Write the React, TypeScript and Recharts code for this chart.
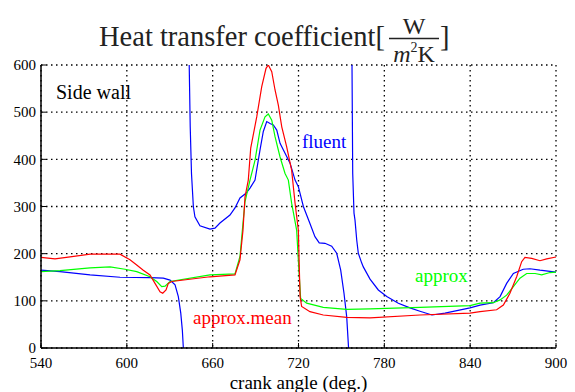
import { LineChart, Line, XAxis, YAxis, CartesianGrid } from "recharts"

const SERIF = "'Liberation Serif', 'Times New Roman', serif"

const X_TICKS = [540, 600, 660, 720, 780, 840, 900]
const Y_TICKS = [0, 100, 200, 300, 400, 500, 600]

// approx.mean (red)
const meanAngles = [540, 549.8, 560.3, 574.3, 595.2, 602.2, 606.9, 611.5, 616.2, 619.7, 623.2, 625.1, 627.4, 629.0, 631.4, 658.1, 675.6, 679.1, 681.2, 682.6, 684.9, 686.6, 690.8, 694.3, 697.3, 698.9, 701.3, 703.6, 705.9, 708.3, 711.7, 715.2, 717.6, 719.9, 720.6, 721.1, 722.2, 728.0, 737.3, 753.7, 770.0, 804.9, 839.9, 846.9, 858.5, 863.2, 867.8, 872.5, 876.0, 878.3, 883.0, 888.8, 893.5, 900]
const meanValues = [192, 189, 193, 199, 199, 187, 176, 165, 155, 137, 119, 116, 123, 137, 141, 151, 155, 187, 250, 320, 356, 424, 490, 554, 593, 600, 586, 547, 515, 469, 427, 377, 307, 250, 165, 109, 88, 77, 70, 65, 64, 70, 74, 77, 81, 91, 116, 151, 183, 192, 190, 185, 189, 193]

// approx (green)
const approxAngles = [540, 553.3, 574.3, 588.3, 598.7, 606.9, 616.2, 620.9, 624.4, 626.7, 630.2, 658.1, 675.6, 679.1, 681.2, 682.6, 686.1, 689.6, 693.1, 696.6, 698.9, 701.3, 703.6, 707.1, 710.6, 712.9, 715.2, 718.7, 720.3, 721.5, 725.7, 737.3, 753.7, 770.0, 804.9, 839.9, 846.9, 856.2, 860.9, 865.5, 870.2, 874.8, 879.5, 885.4, 890.0, 895.8, 900]
const approxValues = [162, 164, 170, 172, 167, 162, 151, 141, 130, 131, 141, 155, 157, 194, 265, 310, 356, 398, 462, 490, 496, 483, 448, 405, 370, 356, 307, 250, 165, 105, 95, 86, 82, 83, 86, 90, 95, 96, 102, 112, 130, 148, 158, 158, 155, 160, 161]

// fluent (blue), null = break at the singularities
const fluentAngles = [540, 553.3, 574.3, 595.2, 616.2, 625.5, 630.2, 633.7, 636.0, 637.7, 638.8, 639.5, 640.3, 641.5, 643.0, 643.6, 644.3, 645.2, 646.5, 647.6, 651.1, 658.1, 661.6, 665.1, 672.1, 675.6, 679.1, 683.3, 686.1, 689.6, 693.1, 695.4, 697.8, 700.1, 702.4, 704.8, 707.1, 710.6, 714.1, 717.6, 719.9, 723.4, 728.0, 731.5, 734.5, 738.5, 743.2, 746.7, 749.5, 751.8, 753.7, 755.0, 755.6, 756.4, 757.0, 757.4, 757.9, 758.8, 759.5, 760.7, 761.8, 764.2, 765.3, 770.0, 775.8, 781.7, 789.8, 797.9, 804.9, 813.3, 822.4, 839.9, 846.9, 856.2, 860.9, 865.5, 870.2, 877.1, 881.8, 888.8, 900]
const fluentValues = [165, 162, 155, 150, 149, 148, 144, 134, 109, 74, 38, 0, -200, null, 900, 600, 470, 370, 300, 278, 259, 252, 254, 265, 282, 297, 318, 328, 339, 356, 420, 459, 480, 476, 473, 462, 434, 413, 392, 356, 342, 300, 264, 236, 223, 222, 216, 201, 165, 116, 66, 0, -200, null, 900, 600, 370, 286, 271, 229, 201, 180, 172, 146, 123, 109, 95, 85, 78, 70, 74, 85, 91, 96, 109, 137, 158, 167, 168, 165, 161]

const zip = (xs: number[], ys: (number | null)[]) => xs.map((x, i) => ({ x, y: ys[i] }))

const meanData = zip(meanAngles, meanValues)
const approxData = zip(approxAngles, approxValues)
const fluentData = zip(fluentAngles, fluentValues)

const tickStyle = { fontSize: 15, fill: "#000", fontFamily: SERIF }
const frame = { stroke: "#000", strokeWidth: 1.5 }
const tickLn = { stroke: "#000", strokeWidth: 1 }

export default function App() {
  return (
    <div style={{ position: "absolute", left: 0, top: 0, width: 575, height: 392, background: "#fff" }}>
      <LineChart width={575} height={392} margin={{ top: 65, right: 19, bottom: 0, left: 0 }}>
        <CartesianGrid stroke="#000" strokeDasharray="1.5 3.5" strokeWidth={1.3} />
        <XAxis
          dataKey="x" type="number" domain={[540, 900]} ticks={X_TICKS}
          height={44} tickSize={-5} tickMargin={14}
          tick={tickStyle} axisLine={frame} tickLine={tickLn}
          label={{ value: "crank angle (deg.)", position: "insideBottom", offset: 3, fill: "#000", fontSize: 19, fontFamily: SERIF }}
        />
        <XAxis
          xAxisId="top" orientation="top" dataKey="x" type="number" domain={[540, 900]} ticks={X_TICKS}
          height={0} tickSize={-5} tickFormatter={() => ""}
          axisLine={frame} tickLine={tickLn}
        />
        <YAxis
          type="number" domain={[0, 600]} ticks={Y_TICKS} allowDataOverflow
          width={41} tickSize={-5} tickMargin={10}
          tick={tickStyle} axisLine={frame} tickLine={tickLn}
        />
        <YAxis
          yAxisId="right" orientation="right" type="number" domain={[0, 600]} ticks={Y_TICKS}
          width={0} tickSize={-5} tickFormatter={() => ""}
          axisLine={frame} tickLine={tickLn}
        />
        <Line data={fluentData} dataKey="y" type="linear" stroke="#0000ff" strokeWidth={1.2} dot={false} isAnimationActive={false} />
        <Line data={approxData} dataKey="y" type="linear" stroke="#00ff00" strokeWidth={1.2} dot={false} isAnimationActive={false} />
        <Line data={meanData} dataKey="y" type="linear" stroke="#ff0000" strokeWidth={1.2} dot={false} isAnimationActive={false} />
      </LineChart>

      <svg width={575} height={392} style={{ position: "absolute", left: 0, top: 0, pointerEvents: "none" }}>
        <g fontFamily={SERIF} fill="#222">
          <text x={99} y={46} fontSize={28.5}>Heat transfer coefficient[</text>
          <text x={414} y={34} fontSize={24} textAnchor="middle">W</text>
          <line x1={389} x2={439} y1={38.5} y2={38.5} stroke="#222" strokeWidth={1.3} />
          <text x={414} y={62} fontSize={24} textAnchor="middle">
            <tspan fontStyle="italic">m</tspan>
            <tspan fontSize={14} dy={-10}>2</tspan>
            <tspan dy={10}>K</tspan>
          </text>
          <text x={440} y={46} fontSize={28.5}>]</text>
        </g>
        <text x={56} y={99} fontSize={20} fontFamily={SERIF} fill="#000">Side wall</text>
        <text x={302} y={148} fontSize={19} fontFamily={SERIF} fill="#0000ff">fluent</text>
        <text x={193} y={324} fontSize={19} fontFamily={SERIF} fill="#ff0000">approx.mean</text>
        <text x={415} y={282} fontSize={19} fontFamily={SERIF} fill="#00ff00">approx</text>
      </svg>
    </div>
  )
}
